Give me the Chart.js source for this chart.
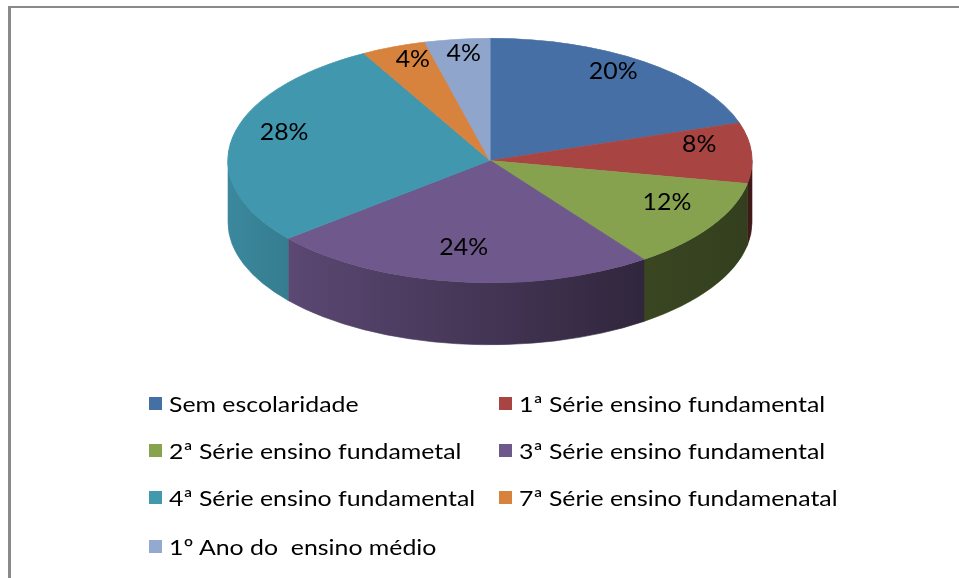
<!DOCTYPE html>
<html><head><meta charset="utf-8">
<script src="https://cdn.jsdelivr.net/npm/chart.js@4/dist/chart.umd.min.js"></script>
<style>
html,body{margin:0;padding:0;background:#fff;}
#wrap{position:relative;width:959px;height:578px;overflow:hidden;background:#fff;}
#frame{position:absolute;left:8px;top:6px;width:1000px;height:620px;border-left:3px solid #8a8a8a;border-top:2px solid #8a8a8a;box-sizing:border-box;}
canvas{position:absolute;left:0;top:0;}
#legend{position:absolute;left:0;top:0;font-family:Lato,"Open Sans",sans-serif;font-size:22px;color:#000;}
.item{position:absolute;display:flex;align-items:center;white-space:pre;height:24px;}
.sw{width:13px;height:13px;margin-right:7px;flex:none;}
.tx{display:inline-block;transform:scaleX(1.13);transform-origin:0 50%;}
</style></head>
<body><div id="wrap"><div id="frame"></div><canvas id="c" width="959" height="578"></canvas><div id="legend"></div></div>
<script>
const categories = [
  'Sem escolaridade',
  '1ª Série ensino fundamental',
  '2ª Série ensino fundametal',
  '3ª Série ensino fundamental',
  '4ª Série ensino fundamental',
  '7ª Série ensino fundamenatal',
  '1º Ano do  ensino médio'
];
const values = [20, 8, 12, 24, 28, 4, 4];
const topColors = ['#4670A5', '#A84543', '#87A24F', '#6F588C', '#4197AE', '#D8833D', '#8FA5CC'];
const legendColors = ['#4470A5', '#A84543', '#88A34E', '#6F588C', '#4299AE', '#D8833D', '#93A9D0'];

function shade(hex, f) {
  const n = parseInt(hex.slice(1), 16);
  const r = Math.round(((n >> 16) & 255) * f), g = Math.round(((n >> 8) & 255) * f), b = Math.round((n & 255) * f);
  return 'rgb(' + r + ',' + g + ',' + b + ')';
}

const DEPTH = 62;
const pie3d = {
  id: 'pie3d',
  beforeDatasetsDraw(chart) {
    const ctx = chart.ctx;
    const arcs = chart.getDatasetMeta(0).data;
    if (!arcs.length) return;
    const a0 = arcs[0];
    const cx = a0.x, cy = a0.y, ry = a0.outerRadius;
    const rx = chart.chartArea.width / 2;
    const sx = rx / ry;
    arcs.forEach((arc, i) => {
      const s = Math.max(arc.startAngle, 0), e = Math.min(arc.endAngle, Math.PI);
      if (e <= s) return;
      const g = ctx.createLinearGradient(cx - rx, 0, cx + rx, 0);
      const base = topColors[i];
      g.addColorStop(0, shade(base, 0.9));
      g.addColorStop(0.15, shade(base, 0.8));
      g.addColorStop(0.8, shade(base, 0.43));
      g.addColorStop(1, shade(base, 0.38));
      ctx.save();
      ctx.beginPath();
      ctx.ellipse(cx, cy, rx, ry, 0, s, e, false);
      ctx.lineTo(cx + rx * Math.cos(e), cy + ry * Math.sin(e) + DEPTH);
      ctx.ellipse(cx, cy + DEPTH, rx, ry, 0, e, s, true);
      ctx.closePath();
      ctx.fillStyle = g;
      ctx.fill();
      ctx.strokeStyle = g; ctx.lineWidth = 0.6; ctx.stroke();
      ctx.restore();
    });
    ctx.save();
    ctx.translate(cx, cy);
    ctx.scale(sx, 1);
    ctx.translate(-cx, -cy);
  },
  afterDatasetsDraw(chart) {
    const ctx = chart.ctx;
    ctx.restore();
    const arcs = chart.getDatasetMeta(0).data;
    const total = values.reduce((a, b) => a + b, 0);
    const rx = chart.chartArea.width / 2;
    ctx.save();
    ctx.fillStyle = '#000';
    ctx.font = '23px Lato, "Open Sans", sans-serif';
    ctx.textAlign = 'center';
    ctx.textBaseline = 'middle';
    arcs.forEach((arc, i) => {
      const mid = (arc.startAngle + arc.endAngle) / 2;
      const f = 0.8;
      const x = arc.x + Math.cos(mid) * rx * f;
      const y = arc.y + Math.sin(mid) * arc.outerRadius * f - 10;
      ctx.save();
      ctx.translate(x, y);
      ctx.scale(1.08, 1);
      ctx.fillText(Math.round(values[i] / total * 100) + '%', 0, 0);
      ctx.restore();
    });
    ctx.restore();
  }
};

new Chart(document.getElementById('c'), {
  type: 'pie',
  data: {
    labels: categories,
    datasets: [{
      data: values,
      backgroundColor: topColors,
      borderColor: topColors,
      borderWidth: 0.5,
      hoverOffset: 0,
      offset: 0,
      clip: false
    }]
  },
  options: {
    responsive: false,
    animation: false,
    events: [],
    layout: { padding: { left: 228, right: 207, top: 38, bottom: 295 } },
    plugins: { legend: { display: false }, tooltip: { enabled: false } }
  },
  plugins: [pie3d]
});

const legend = document.getElementById('legend');
const colX = [149, 499];
const rowY = [391, 438, 485, 534];
categories.forEach((name, i) => {
  const d = document.createElement('div');
  d.className = 'item';
  d.style.left = colX[i % 2] + 'px';
  d.style.top = rowY[Math.floor(i / 2)] + 'px';
  const sw = document.createElement('span');
  sw.className = 'sw';
  sw.style.background = legendColors[i];
  const t = document.createElement('span');
  t.className = 'tx';
  t.textContent = name;
  d.appendChild(sw); d.appendChild(t);
  legend.appendChild(d);
});
</script>
</body></html>
